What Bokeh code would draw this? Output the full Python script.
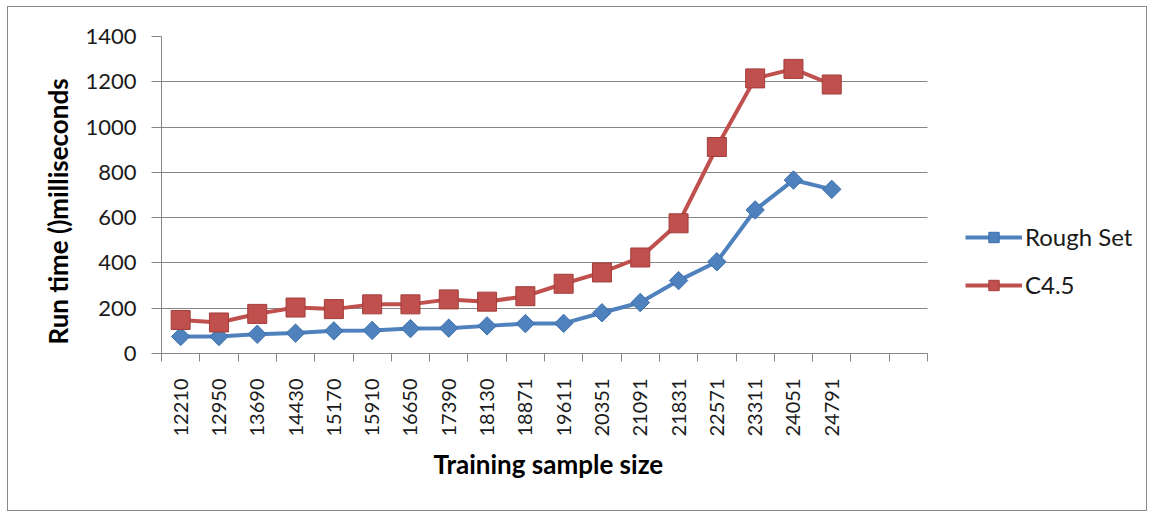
import numpy as np
from bokeh.plotting import figure
from bokeh.models import Range1d, FixedTicker, Legend, LegendItem, Title
from bokeh.embed import file_html
from bokeh.resources import INLINE

categories = ["12210", "12950", "13690", "14430", "15170", "15910", "16650", "17390", "18130",
              "18871", "19611", "20351", "21091", "21831", "22571", "23311", "24051", "24791"]
rough_set = [75, 75, 85, 90, 100, 102, 110, 112, 122, 132, 133, 180, 225, 322, 405, 634, 766, 725]
c45 = [148, 137, 175, 203, 196, 217, 217, 239, 229, 253, 308, 358, 424, 575, 912, 1215, 1257, 1188]
y_ticks = [0, 200, 400, 600, 800, 1000, 1200, 1400]
n_slots = 20
x_title = "Training sample size"
y_title = "Run time ()milliseconds"

FONT = "Lato"
GRID = "#868686"
BLUE = "#4F81BD"
RED = "#C0504D"

W, H = 1140, 505
LEFT, TOP, BOTTOM = 153, 29, 159
AXIS_W = 766                      # pixel width of the category axis
frame_w = W - LEFT - 1
x_end = n_slots * frame_w / AXIS_W  # extra room on the right for the legend

x = np.arange(len(categories)) + 0.5

p = figure(width=W, height=H, output_backend="svg", toolbar_location=None,
           x_range=Range1d(0, x_end), y_range=Range1d(0, 1400),
           min_border_left=LEFT, min_border_right=1, min_border_top=TOP, min_border_bottom=BOTTOM)
p.styles = {"border": "1px solid #8a8a8a", "margin-left": "7px", "margin-top": "6px"}
p.outline_line_color = None
p.background_fill_color = "white"
p.border_fill_color = "white"

# x axis
p.xaxis.bounds = (0, n_slots)
p.xaxis.ticker = FixedTicker(ticks=list(x), minor_ticks=list(range(n_slots + 1)))
p.xaxis.major_label_overrides = {float(v): c for v, c in zip(x, categories)}
p.xaxis.major_label_orientation = np.pi / 2
p.xaxis.major_tick_out = 0
p.xaxis.major_tick_in = 0
p.xaxis.minor_tick_out = 8
p.xaxis.minor_tick_in = 0
p.xaxis.minor_tick_line_color = GRID
p.xaxis.axis_line_color = GRID
p.xaxis.major_label_standoff = 17
p.xaxis.major_label_text_font = FONT
p.xaxis.major_label_text_font_size = "20px"
p.xaxis.major_label_text_color = "#1a1a1a"
p.xgrid.visible = False

# y axis
p.yaxis.ticker = FixedTicker(ticks=y_ticks)
p.yaxis.major_tick_out = 10
p.yaxis.major_tick_in = 0
p.yaxis.minor_tick_line_color = None
p.yaxis.major_tick_line_color = GRID
p.yaxis.axis_line_color = GRID
p.yaxis.major_label_standoff = 15
p.yaxis.major_label_text_font = FONT
p.yaxis.major_label_text_font_size = "22px"
p.yaxis.major_label_text_color = "#1a1a1a"
p.ygrid.grid_line_color = GRID
p.ygrid.grid_line_width = 1
p.ygrid.cross_bounds = (0, n_slots)

# axis titles (centred on the category axis, not on the whole frame)
xt = Title(text=x_title, align="left", offset=272, standoff=13,
           text_font=FONT, text_font_size="26px", text_font_style="bold", text_color="#000000")
p.add_layout(xt, "below")
yt = Title(text=y_title, align="left", offset=9, standoff=18,
           text_font=FONT, text_font_size="26px", text_font_style="bold", text_color="#000000")
p.add_layout(yt, "left")

# series
l1 = p.line(x, rough_set, line_color=BLUE, line_width=4)
s1 = p.scatter(x, rough_set, marker="square", angle=np.pi / 4, size=13,
               fill_color=BLUE, line_color="#3A6FAE", line_width=1)
l2 = p.line(x, c45, line_color=RED, line_width=4)
s2 = p.scatter(x, c45, marker="square", size=19,
               fill_color=RED, line_color="#A33D3A", line_width=1)

legend = Legend(items=[LegendItem(label="Rough Set", renderers=[l1, s1]),
                       LegendItem(label="C4.5", renderers=[l2, s2])],
                location=(AXIS_W + 38, 54), orientation="vertical")
legend.label_text_font = FONT
legend.label_text_font_size = "24px"
legend.label_text_color = "#1a1a1a"
legend.glyph_width = 57
legend.glyph_height = 26
legend.label_height = 26
legend.label_standoff = 3
legend.spacing = 19
legend.padding = 0
legend.margin = 0
legend.border_line_color = None
legend.background_fill_alpha = 0
p.add_layout(legend)

open("out.html", "w").write(file_html(p, INLINE))
